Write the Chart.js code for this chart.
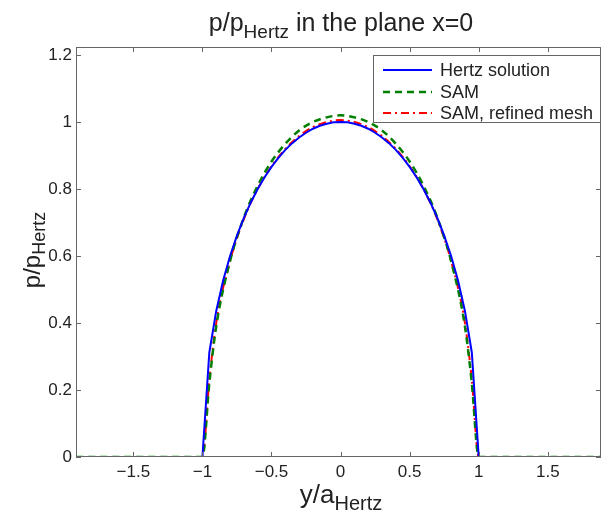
<!DOCTYPE html>
<html>
<head>
<meta charset="utf-8">
<script src="https://cdn.jsdelivr.net/npm/chart.js@4"></script>
<style>
html,body{margin:0;padding:0;background:#fff;}
</style>
</head>
<body>
<canvas id="c" width="603" height="515"></canvas>
<script>
// values
const hertzY = [-2,-1,-0.95,-0.9,-0.85,-0.8,-0.75,-0.7,-0.65,-0.6,-0.55,-0.5,-0.45,-0.4,-0.35,-0.3,-0.25,-0.2,-0.15,-0.1,-0.05,0,0.05,0.1,0.15,0.2,0.25,0.3,0.35,0.4,0.45,0.5,0.55,0.6,0.65,0.7,0.75,0.8,0.85,0.9,0.95,1,2];
const hertzP = [0,0,0.312,0.436,0.527,0.6,0.661,0.714,0.76,0.8,0.835,0.866,0.893,0.917,0.937,0.954,0.968,0.98,0.989,0.995,0.999,1,0.999,0.995,0.989,0.98,0.968,0.954,0.937,0.917,0.893,0.866,0.835,0.8,0.76,0.714,0.661,0.6,0.527,0.436,0.312,0,0];

const samY = [-2,-1,-0.95,-0.9,-0.8,-0.7,-0.6,-0.5,-0.4,-0.3,-0.2,-0.1,0,0.1,0.2,0.3,0.4,0.5,0.6,0.7,0.8,0.9,0.95,1,2];
const samP = [0,0,0.22,0.39,0.585,0.715,0.81,0.882,0.935,0.975,1.0,1.014,1.02,1.014,1.0,0.975,0.935,0.882,0.81,0.715,0.585,0.39,0.22,0,0];
const refP = [0,0,0.23,0.4,0.585,0.71,0.8,0.868,0.92,0.958,0.985,1.0,1.006,1.0,0.985,0.958,0.92,0.868,0.8,0.71,0.585,0.4,0.23,0,0];

const seriesNames = ["Hertz solution","SAM","SAM, refined mesh"];
const xTicks = [-1.5,-1,-0.5,0,0.5,1,1.5];
const yTicks = [0,0.2,0.4,0.6,0.8,1,1.2];

const FONT = '"Liberation Sans", Arial, sans-serif';

function pts(xs,ys){
  return xs.map((x,i)=>({x:x,y:ys[i]}));
}

// text with subscript pieces: [text, size, dy]
function drawParts(ctx,parts,x,y){
  let total=0;
  parts.forEach(p=>{ctx.font=p[1]+'px '+FONT;total+=ctx.measureText(p[0]).width;});
  let cx=x-total/2;
  ctx.textAlign='left';
  ctx.textBaseline='alphabetic';
  parts.forEach(p=>{
    ctx.font=p[1]+'px '+FONT;
    ctx.fillText(p[0],cx,y+p[2]);
    cx+=ctx.measureText(p[0]).width;
  });
}

const decor = {
  id:'decor',
  afterDatasetsDraw(chart){
    const ctx=chart.ctx;
    const a=chart.chartArea;
    const xs=chart.scales.x, ys=chart.scales.y;
    ctx.save();
    ctx.strokeStyle='#666';
    ctx.lineWidth=1;
    ctx.beginPath();
    xTicks.forEach(v=>{
      let px=Math.round(xs.getPixelForValue(v))+0.5;
      ctx.moveTo(px,a.bottom);ctx.lineTo(px,a.bottom-5);
      ctx.moveTo(px,a.top);ctx.lineTo(px,a.top+5);
    });
    yTicks.forEach(v=>{
      let py=Math.round(ys.getPixelForValue(v))+0.5;
      ctx.moveTo(a.left,py);ctx.lineTo(a.left+5,py);
      ctx.moveTo(a.right,py);ctx.lineTo(a.right-5,py);
    });
    ctx.stroke();
    ctx.strokeRect(Math.round(a.left)+0.5,Math.round(a.top)+0.5,Math.round(a.right-a.left)-1,Math.round(a.bottom-a.top)-1);

    // legend box
    const lx=373.5, ly=55.5, lw=227, lh=67;
    ctx.fillStyle='#fff';
    ctx.fillRect(lx,ly,lw,lh);
    ctx.strokeRect(lx,ly,lw,lh);
    const rows=[70,92,113];
    chart.data.datasets.forEach((ds,i)=>{
      ctx.strokeStyle=ds.borderColor;
      ctx.lineWidth=ds.borderWidth;
      ctx.setLineDash(ds.borderDash||[]);
      ctx.beginPath();
      ctx.moveTo(383,rows[i]);ctx.lineTo(432,rows[i]);
      ctx.stroke();
      ctx.setLineDash([]);
      ctx.fillStyle='#222';
      ctx.font='18px '+FONT;
      ctx.textAlign='left';
      ctx.textBaseline='middle';
      ctx.fillText(seriesNames[i],440,rows[i]+1);
    });

    // title and axis titles
    ctx.fillStyle='#222';
    drawParts(ctx,[["p/p",25,0],["Hertz",19,7],[" in the plane x=0",25,0]],341,31);
    drawParts(ctx,[["y/a",26,0],["Hertz",20,7]],341,503);
    ctx.translate(40,250);
    ctx.rotate(-Math.PI/2);
    drawParts(ctx,[["p/p",24,0],["Hertz",18,5]],0,0);
    ctx.restore();
  }
};

new Chart(document.getElementById('c'),{
  type:'line',
  data:{
    datasets:[
      {label:seriesNames[0],data:pts(hertzY,hertzP),borderColor:'#0000ff',borderWidth:2,pointRadius:0,tension:0},
      {label:seriesNames[1],data:pts(samY,samP),borderColor:'#007f00',borderWidth:2.5,borderDash:[7,5],pointRadius:0,cubicInterpolationMode:'monotone'},
      {label:seriesNames[2],data:pts(samY,refP),borderColor:'#ff0000',borderWidth:2,borderDash:[8,4,2,4],pointRadius:0,cubicInterpolationMode:'monotone'}
    ]
  },
  options:{
    responsive:false,
    animation:false,
    layout:{padding:{top:47,right:2,left:0,bottom:0}},
    plugins:{legend:{display:false},title:{display:false},tooltip:{enabled:false}},
    scales:{
      x:{
        type:'linear',min:-1.915,max:1.885,
        grid:{display:false,drawTicks:false},
        border:{display:false},
        afterBuildTicks:s=>{s.ticks=xTicks.map(v=>({value:v}));},
        afterFit:s=>{s.height=58;},
        ticks:{padding:5,color:'#222',font:{family:FONT,size:17},maxRotation:0,
          callback:v=>String(v).replace('-','\u2212')}
      },
      y:{
        type:'linear',min:0,max:1.224,
        grid:{display:false,drawTicks:false},
        border:{display:false},
        afterBuildTicks:s=>{s.ticks=yTicks.map(v=>({value:v}));},
        afterFit:s=>{s.width=76;},
        ticks:{padding:4,color:'#222',font:{family:FONT,size:17},callback:v=>String(v)}
      }
    }
  },
  plugins:[decor]
});
</script>
</body>
</html>
